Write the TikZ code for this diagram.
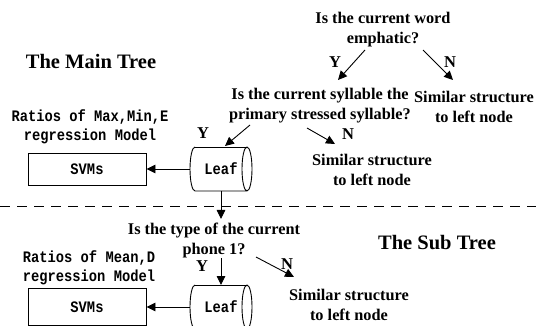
\documentclass[tikz,border=0pt]{standalone}
\usepackage{fontspec}
\setmainfont{Liberation Serif}
\newfontfamily\codefont[FakeStretch=0.86]{Liberation Mono}
\usetikzlibrary{arrows.meta}

\begin{document}
\begin{tikzpicture}[x=1pt,y=-1pt,
  q/.style={font=\bfseries\fontsize{16.3}{20}\selectfont, align=center, inner sep=0pt},
  treetitle/.style={font=\bfseries\fontsize{20.5}{24}\selectfont, inner sep=0pt},
  code/.style={font=\codefont\bfseries\fontsize{16}{18.5}\selectfont, align=center, inner sep=0pt},
  yn/.style={font=\bfseries\fontsize{16.5}{20}\selectfont, inner sep=0pt},
  arr/.style={-{Triangle[length=9pt,width=8.5pt]}, line width=0.9pt},
  svmbox/.style={draw, line width=0.9pt, minimum width=118pt, minimum height=32pt, inner sep=0pt, code},
  leafbody/.style={minimum width=52pt, minimum height=44pt, inner sep=0pt, outer sep=0pt, code},
  cyl/.style={line width=0.9pt},
]
\useasboundingbox (0,0) rectangle (536,326);

% ---------- main tree ----------
\node[q] (root) at (383,30) {Is the current word\\emphatic?};
\node[treetitle] (maintitle) at (91,61) {The Main Tree};
\node[yn] (y1) at (335,62) {Y};
\node[yn] (n1) at (450,62) {N};
\coordinate (y1s) at (365,50); \coordinate (y1e) at (338,80);
\coordinate (n1s) at (423,50); \coordinate (n1e) at (453,80);
\draw[arr] (y1s) -- (y1e);
\draw[arr] (n1s) -- (n1e);

\node[q] (q1) at (320,106) {Is the current syllable the\\primary stressed syllable?};
\node[q] (sim1) at (474,107) {Similar structure\\to left node};

\node[code] (ratio1) at (90,127) {Ratios of Max,Min,E\\regression Model};
\node[svmbox] (box1) at (87,169) {SVMs};
\node[leafbody] (leaf1) at (221,169) {Leaf};
\draw[cyl] (leaf1.north west) arc[start angle=90, end angle=270, x radius=5pt, y radius=22pt]
  -- (leaf1.south east) arc[start angle=-90, end angle=270, x radius=5pt, y radius=22pt];
\draw[cyl] (leaf1.north west) -- (leaf1.north east);

\node[yn] (y2) at (203,133) {Y};
\coordinate (y2s) at (250,125); \coordinate (y2e) at (225,146);
\draw[arr] (y2s) -- (y2e);
\node[yn] (n2) at (348,134) {N};
\coordinate (n2s) at (307,128); \coordinate (n2e) at (335,144);
\draw[arr] (n2s) -- (n2e);
\node[q] (sim2) at (372,170) {Similar structure\\to left node};

\draw[arr] ([xshift=-5pt]leaf1.west) -- (box1.east);
\draw[arr] (leaf1.south) -- ++(0,28);

% ---------- separator ----------
\draw[line width=1pt, dash pattern=on 10pt off 7pt] (0,207) -- (536,207);

% ---------- sub tree ----------
\node[q] (q2) at (214,240) {Is the type of the current\\phone 1?};
\node[treetitle] (subtitle) at (437,243) {The Sub Tree};
\node[code] (ratio2) at (89,268) {Ratios of Mean,D\\regression Model};
\node[svmbox, minimum height=37pt] (box2) at (87,307) {SVMs};
\node[leafbody] (leaf2) at (221,307) {Leaf};
\draw[cyl] (leaf2.north west) arc[start angle=90, end angle=270, x radius=5pt, y radius=22pt]
  -- (leaf2.south east) arc[start angle=-90, end angle=270, x radius=5pt, y radius=22pt];
\draw[cyl] (leaf2.north west) -- (leaf2.north east);

\node[yn] (y3) at (202,266) {Y};
\draw[arr] ([yshift=27pt]leaf2.north) -- (leaf2.north);
\node[yn] (n3) at (287,264) {N};
\coordinate (n3s) at (256,257); \coordinate (n3e) at (294,277);
\draw[arr] (n3s) -- (n3e);
\node[q] (sim3) at (349,305) {Similar structure\\to left node};

\draw[arr] ([xshift=-5pt]leaf2.west) -- (box2.east);
\end{tikzpicture}
\end{document}
